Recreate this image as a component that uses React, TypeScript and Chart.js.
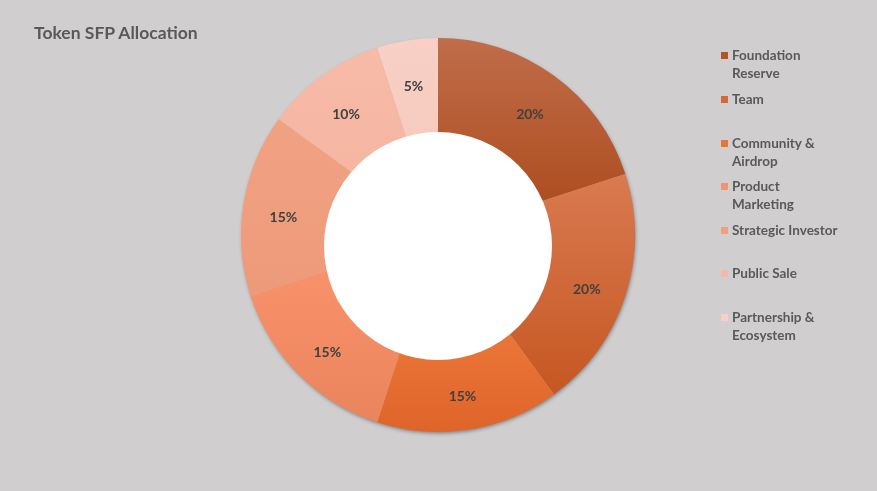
import React, { useEffect, useRef } from "react";
import { Chart, registerables } from "chart.js";

Chart.register(...registerables);

const TITLE = "Token SFP Allocation";
const CATEGORIES = [
  "Foundation Reserve",
  "Team",
  "Community & Airdrop",
  "Product Marketing",
  "Strategic Investor",
  "Public Sale",
  "Partnership & Ecosystem",
];
const LEGEND_LINES = [
  ["Foundation", "Reserve"],
  ["Team"],
  ["Community &", "Airdrop"],
  ["Product", "Marketing"],
  ["Strategic Investor"],
  ["Public Sale"],
  ["Partnership &", "Ecosystem"],
];
const VALUES = [20, 20, 15, 15, 15, 10, 5];
const COLORS_TOP = ["#c06d4a", "#d97a50", "#eb7538", "#f8916a", "#f1a283", "#f7bba8", "#f8d0c6"];
const COLORS_BOTTOM = ["#ad4c1f", "#c65722", "#df6429", "#ea845d", "#ed9a7a", "#f5b5a1", "#f7cbbf"];
const LEGEND_COLORS = ["#b4532a", "#d5683a", "#ec7336", "#f79270", "#f29e80", "#f6b8a5", "#f8d0c6"];
const LEGEND_TOPS = [46, 90, 134, 177, 221, 264, 308];

const BG = "#d0cecf";
const HOLE_RADIUS = 114;
const HOLE_OFFSET_Y = 11;

function geom(chart: any) {
  const a = chart.chartArea;
  const cx = (a.left + a.right) / 2;
  const cy = (a.top + a.bottom) / 2;
  const R = Math.min(a.right - a.left, a.bottom - a.top) / 2;
  return { cx, cy, R };
}

function sliceAngles(i: number) {
  const total = VALUES.reduce((s, v) => s + v, 0);
  let start = 0;
  for (let k = 0; k < i; k++) start += VALUES[k];
  const a0 = (start / total) * Math.PI * 2;
  const a1 = ((start + VALUES[i]) / total) * Math.PI * 2;
  return [a0, a1];
}

const decor = {
  id: "decor",
  beforeDatasetsDraw(chart: any) {
    const { ctx } = chart;
    const { cx, cy, R } = geom(chart);
    ctx.save();
    ctx.shadowColor = "rgba(0,0,0,0.45)";
    ctx.shadowBlur = 4;
    ctx.shadowOffsetX = 1;
    ctx.shadowOffsetY = 2;
    ctx.fillStyle = "#b0b0b0";
    ctx.beginPath();
    ctx.arc(cx, cy, R - 1, 0, Math.PI * 2);
    ctx.fill();
    ctx.restore();
  },
  afterDatasetsDraw(chart: any) {
    const { ctx } = chart;
    const { cx, cy, R } = geom(chart);
    ctx.save();
    ctx.fillStyle = "#ffffff";
    ctx.beginPath();
    ctx.arc(cx, cy + HOLE_OFFSET_Y, HOLE_RADIUS, 0, Math.PI * 2);
    ctx.fill();

    ctx.fillStyle = "#404040";
    ctx.font = "bold 14px Lato";
    ctx.textAlign = "center";
    ctx.textBaseline = "middle";
    const total = VALUES.reduce((s, v) => s + v, 0);
    const r = (R + HOLE_RADIUS) / 2 + 1;
    VALUES.forEach((v, i) => {
      const [a0, a1] = sliceAngles(i);
      const m = (a0 + a1) / 2;
      const ux = Math.sin(m);
      const uy = -Math.cos(m);
      const pct = Math.round((v / total) * 100) + "%";
      ctx.fillText(pct, cx + ux * r, cy + HOLE_OFFSET_Y / 2 + uy * r + 1);
    });
    ctx.restore();
  },
};

function sliceColor(c: any) {
  const i = c.dataIndex;
  const chart = c.chart;
  if (!chart.chartArea) return COLORS_TOP[i];
  const { cx, cy, R } = geom(chart);
  const [a0, a1] = sliceAngles(i);
  let minY = Infinity;
  let maxY = -Infinity;
  for (let k = 0; k <= 40; k++) {
    const a = a0 + ((a1 - a0) * k) / 40;
    const yo = cy - Math.cos(a) * R;
    const yi = cy + HOLE_OFFSET_Y - Math.cos(a) * HOLE_RADIUS;
    minY = Math.min(minY, yo, yi);
    maxY = Math.max(maxY, yo, yi);
  }
  const g = chart.ctx.createLinearGradient(0, minY, 0, maxY);
  g.addColorStop(0, COLORS_TOP[i]);
  g.addColorStop(1, COLORS_BOTTOM[i]);
  return g;
}

export default function App() {
  const ref = useRef<HTMLCanvasElement | null>(null);

  useEffect(() => {
    document.body.style.margin = "0";
    const chart = new Chart(ref.current as HTMLCanvasElement, {
      type: "doughnut",
      data: {
        labels: CATEGORIES,
        datasets: [
          {
            data: VALUES,
            backgroundColor: sliceColor as any,
            borderWidth: 0,
          },
        ],
      },
      options: {
        responsive: false,
        animation: false,
        events: [],
        cutout: 0,
        layout: { padding: { top: 38, bottom: 59, left: 241, right: 242 } },
        plugins: {
          legend: { display: false },
          tooltip: { enabled: false },
          title: { display: false },
        },
      },
      plugins: [decor],
    });
    return () => chart.destroy();
  }, []);

  const textStyle: React.CSSProperties = {
    position: "absolute",
    fontFamily: "Lato, sans-serif",
    fontWeight: 700,
    color: "#595959",
  };

  return (
    <div style={{ position: "relative", width: 877, height: 491, background: BG, overflow: "hidden" }}>
      <canvas ref={ref} width={877} height={491} style={{ position: "absolute", left: 0, top: 0 }} />
      <div style={{ ...textStyle, left: 34, top: 22, fontSize: 17.5, lineHeight: "22px", whiteSpace: "nowrap" }}>
        {TITLE}
      </div>
      {LEGEND_LINES.map((lines, i) => (
        <div key={i} style={{ position: "absolute", left: 721, top: LEGEND_TOPS[i] }}>
          <div
            style={{
              position: "absolute",
              left: 0,
              top: 6,
              width: 7,
              height: 7,
              background: LEGEND_COLORS[i],
            }}
          />
          <div style={{ ...textStyle, left: 11, top: 0, fontSize: 13.5, lineHeight: "18px", whiteSpace: "nowrap" }}>
            {lines.map((l, k) => (
              <div key={k}>{l}</div>
            ))}
          </div>
        </div>
      ))}
    </div>
  );
}
